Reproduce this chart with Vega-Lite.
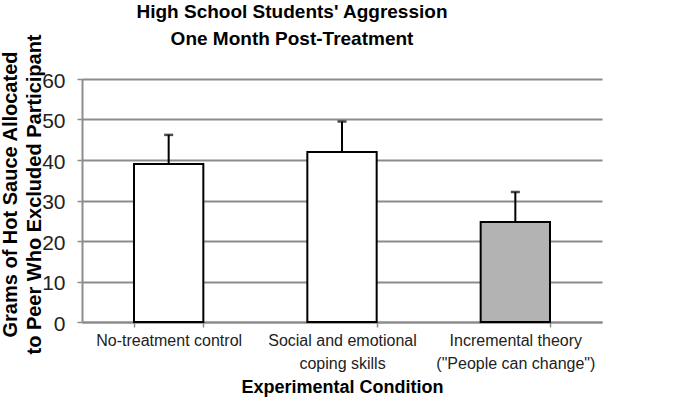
{
  "$schema": "https://vega.github.io/schema/vega-lite/v6.json",
  "autosize": "none",
  "width": 520,
  "height": 243,
  "padding": {"left": 82, "top": 79, "right": 81, "bottom": 85},
  "background": "white",
  "config": {
    "font": "Liberation Sans",
    "view": {"stroke": null}
  },
  "title": {
    "text": ["High School Students' Aggression", "One Month Post-Treatment"],
    "fontSize": 19,
    "fontWeight": "bold",
    "color": "black",
    "lineHeight": 27,
    "anchor": "middle",
    "dx": -50,
    "offset": -15
  },
  "data": {
    "values": [
      {"condition": "No-treatment control", "mean": 39.0, "upper": 46.2},
      {"condition": "Social and emotional coping skills", "mean": 42.0, "upper": 49.5},
      {"condition": "Incremental theory (\"People can change\")", "mean": 24.7, "upper": 32.1}
    ]
  },
  "encoding": {
    "x": {
      "field": "condition",
      "type": "nominal",
      "sort": null,
      "scale": {"paddingInner": 0.6, "paddingOuter": 0.3},
      "axis": {
        "title": "Experimental Condition",
        "titleFontSize": 18,
        "titleFontWeight": "bold",
        "titleColor": "black",
        "titlePadding": 7,
        "labelAngle": 0,
        "labelFontSize": 16,
        "labelColor": "#222",
        "labelPadding": 5,
        "labelLineHeight": 23,
        "labelExpr": "datum.value == 'Social and emotional coping skills' ? ['Social and emotional', 'coping skills'] : datum.value == 'Incremental theory (\"People can change\")' ? ['Incremental theory', '(\"People can change\")'] : datum.value",
        "tickBand": "extent",
        "tickSize": 5,
        "tickColor": "#8c8c8c",
        "tickWidth": 1.5,
        "domainColor": "#8c8c8c",
        "domainWidth": 2,
        "grid": false
      }
    }
  },
  "layer": [
    {
      "mark": {"type": "bar", "stroke": "black", "strokeWidth": 2},
      "encoding": {
        "y": {
          "field": "mean",
          "type": "quantitative",
          "scale": {"domain": [0, 60]},
          "axis": {
            "title": ["Grams of Hot Sauce Allocated", "to Peer Who Excluded Participant"],
            "titleFontSize": 20,
            "titleFontWeight": "bold",
            "titleColor": "black",
            "titleLineHeight": 24,
            "titleBaseline": "top",
            "titleAngle": -90,
            "titleX": -82,
            "titleY": 115,
            "values": [0, 10, 20, 30, 40, 50, 60],
            "labelFontSize": 21,
            "labelColor": "#222",
            "labelPadding": 12,
            "labelOffset": 2,
            "tickSize": 5,
            "tickColor": "#8c8c8c",
            "tickWidth": 1.5,
            "domainColor": "#8c8c8c",
            "domainWidth": 2,
            "grid": true,
            "gridColor": "#8c8c8c",
            "gridWidth": 2
          }
        },
        "fill": {
          "field": "condition",
          "type": "nominal",
          "sort": null,
          "scale": {"range": ["white", "white", "#b3b3b3"]},
          "legend": null
        }
      }
    },
    {
      "mark": {"type": "rule", "color": "black", "strokeWidth": 2},
      "encoding": {
        "y": {"field": "mean", "type": "quantitative"},
        "y2": {"field": "upper"}
      }
    },
    {
      "mark": {"type": "tick", "color": "black", "thickness": 2.5, "size": 9},
      "encoding": {
        "y": {"field": "upper", "type": "quantitative"}
      }
    }
  ]
}
